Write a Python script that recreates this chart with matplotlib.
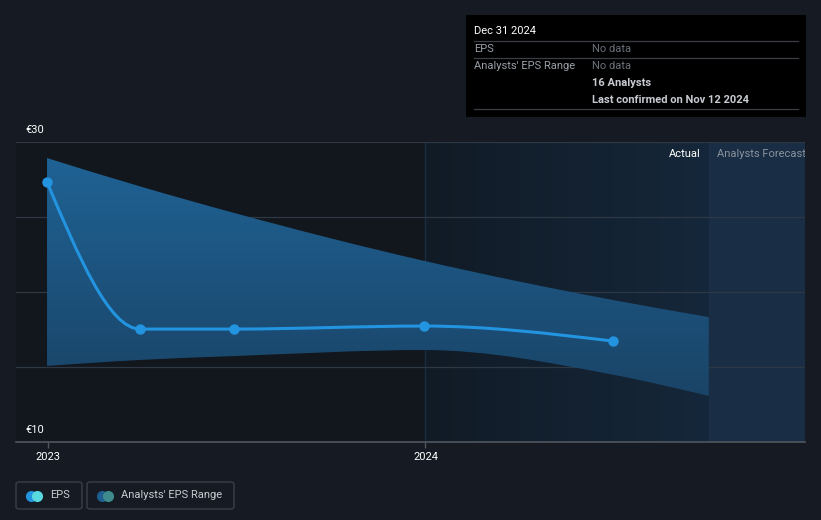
import datetime as dt
import numpy as np
import matplotlib
matplotlib.use("Agg")
import matplotlib.pyplot as plt
import matplotlib.dates as mdates
import matplotlib.transforms as mtrans
from matplotlib.path import Path
from matplotlib.patches import PathPatch, FancyBboxPatch, Rectangle
from matplotlib.colors import LinearSegmentedColormap

plt.rcParams['font.family'] = ['Roboto', 'DejaVu Sans']

# EPS (actual)
eps_dates = ["2022-12-31", "2023-03-31", "2023-06-30", "2023-12-31", "2024-06-30"]
eps_values = [27.33, 17.53, 17.53, 17.73, 16.73]

# Analysts' EPS range
range_dates = ["2022-12-31", "2023-03-31", "2023-06-30", "2023-12-31", "2024-06-30", "2024-10-01"]
range_high = [28.93, 27.04, 25.27, 22.07, 19.47, 18.33]
range_low = [15.07, 15.47, 15.73, 16.13, 14.49, 13.07]

year_ticks = ["2023-01-01", "2024-01-01"]
year_labels = ["2023", "2024"]
forecast_start = "2024-10-01"
highlight_start = "2024-01-01"

tooltip_title = "Dec 31 2024"
tooltip_rows = [("EPS", "No data"), ("Analysts' EPS Range", "No data"),
                ("", "16 Analysts"), ("", "Last confirmed on Nov 12 2024")]

BG = "#151a23"


def d(s):
    return mdates.date2num(dt.datetime.strptime(s, "%Y-%m-%d"))


def monotone_path(xs, ys):
    # cubic bezier segments like d3.curveMonotoneX
    xs = np.asarray(xs, float)
    ys = np.asarray(ys, float)
    n = len(xs)
    h = np.diff(xs)
    s = np.diff(ys) / h
    t = np.zeros(n)
    for i in range(1, n - 1):
        p = (s[i - 1] * h[i] + s[i] * h[i - 1]) / (h[i - 1] + h[i])
        t[i] = (np.sign(s[i - 1]) + np.sign(s[i])) * min(abs(s[i - 1]), abs(s[i]), 0.5 * abs(p))
    t[0] = (3 * s[0] - t[1]) / 2 if n > 2 else s[0]
    t[-1] = (3 * s[-1] - t[-2]) / 2 if n > 2 else s[-1]
    verts = [(xs[0], ys[0])]
    codes = [Path.MOVETO]
    for i in range(n - 1):
        dx = h[i] / 3
        verts += [(xs[i] + dx, ys[i] + dx * t[i]),
                  (xs[i + 1] - dx, ys[i + 1] - dx * t[i + 1]),
                  (xs[i + 1], ys[i + 1])]
        codes += [Path.CURVE4] * 3
    return verts, codes


fig = plt.figure(figsize=(8.21, 5.2), dpi=100, facecolor=BG)
ax = fig.add_axes([16 / 821, 78 / 520, 789 / 821, 300 / 520])
ax.set_facecolor("#12161d")

xmin = d("2022-12-01")
xmax = d("2025-01-02")
ax.set_xlim(xmin, xmax)
ax.set_ylim(10, 30)

# background regions
grad = LinearSegmentedColormap.from_list("g", ["#111b26", "#15273a"])
ax.imshow(np.linspace(0, 1, 100).reshape(1, -1), cmap=grad, aspect="auto",
          extent=[d(highlight_start), d(forecast_start), 10, 30], zorder=0)
ax.add_patch(Rectangle((d(forecast_start), 10), xmax - d(forecast_start), 20,
                       facecolor="#192d44", edgecolor="none", zorder=0))
ax.axvline(d(highlight_start), color="#182c42", lw=1, zorder=0.5)

for yv in [15, 20, 25, 30]:
    ax.axhline(yv, color="#2e3844", lw=0.9, zorder=1)

# EPS range band with vertical gradient
rx = [d(s) for s in range_dates]
uv, uc = monotone_path(rx, range_high)
lv, lc = monotone_path(rx[::-1], range_low[::-1])
verts = uv + lv + [uv[0]]
codes = uc + [Path.LINETO] + lc[1:] + [Path.CLOSEPOLY]
band = PathPatch(Path(verts, codes), facecolor="none", edgecolor="none")
ax.add_patch(band)
bandmap = LinearSegmentedColormap.from_list("b", ["#1a4467", "#1f6294"])
img = ax.imshow(np.linspace(0, 1, 200).reshape(-1, 1), cmap=bandmap, aspect="auto",
                origin="lower", extent=[rx[0], rx[-1], min(range_low), max(range_high)],
                zorder=2)
img.set_clip_path(band)

# EPS line
ex = [d(s) for s in eps_dates]
ev, ec = monotone_path(ex, eps_values)
ax.add_patch(PathPatch(Path(ev, ec), facecolor="none", edgecolor="#2394df", lw=2.2,
                       capstyle="round", zorder=4))
ax.plot(ex, eps_values, "o", color="#2394df", ms=6.5, zorder=5)

# axes styling
for sp in ["top", "right", "left"]:
    ax.spines[sp].set_visible(False)
ax.spines["bottom"].set_color("#50565f")
ax.spines["bottom"].set_linewidth(1.2)
ax.set_yticks([])
ax.set_xticks([d(s) for s in year_ticks])
ax.set_xticklabels(year_labels)
ax.tick_params(axis="x", colors="#50565f", length=4, width=1, labelcolor="#ffffff",
               labelsize=8, pad=3)

off = mtrans.offset_copy(ax.get_yaxis_transform(), fig=fig, y=5, units="points")
ax.text(9 / 789, 30, "€30", transform=off, color="white", fontsize=8, va="bottom", ha="left")
ax.text(9 / 789, 10, "€10", transform=off, color="white", fontsize=8, va="bottom", ha="left")

ax.text(d(forecast_start) - 8, 29.2, "Actual", color="white", fontsize=8, ha="right", va="center")
ax.text(d(forecast_start) + 8, 29.2, "Analysts Forecast", color="#8a929c", fontsize=8,
        ha="left", va="center", clip_on=True)

# tooltip
fig.patches.append(Rectangle((466 / 821, 1 - 117 / 520), 340 / 821, 102 / 520,
                             transform=fig.transFigure, facecolor="black", edgecolor="none"))
fig.text(474 / 821, 1 - 31 / 520, tooltip_title, color="white", fontsize=8, va="center")
for yy in [41, 58, 109]:
    fig.add_artist(plt.Line2D([474 / 821, 798 / 821], [1 - yy / 520] * 2, color="#3a3f47",
                              lw=0.9, transform=fig.transFigure))
row_y = [49, 66, 83, 100]
for (lab, val), yy in zip(tooltip_rows, row_y):
    if lab:
        fig.text(474 / 821, 1 - yy / 520, lab, color="#9aa0a8", fontsize=8, va="center")
    bold = val != "No data"
    fig.text(592 / 821, 1 - yy / 520, val, color="#c8ccd2" if bold else "#6b7079",
             fontsize=8, va="center", fontweight="bold" if bold else "normal")


# legend
def legend_item(x0, w, c1, c2, label):
    fig.patches.append(FancyBboxPatch((x0 / 821, 1 - 509 / 520), w / 821, 27 / 520,
                                      boxstyle="round,pad=0,rounding_size=0.004",
                                      transform=fig.transFigure, facecolor="none",
                                      edgecolor="#3a404a", lw=1))
    fig.add_artist(plt.Line2D([(x0 + 15) / 821], [1 - 495.5 / 520], marker="o", ms=7,
                              color=c1, transform=fig.transFigure, lw=0))
    fig.add_artist(plt.Line2D([(x0 + 21) / 821], [1 - 495.5 / 520], marker="o", ms=7,
                              color=c2, transform=fig.transFigure, lw=0))
    fig.text((x0 + 34) / 821, 1 - 495.5 / 520, label, color="#c8ccd2", fontsize=8, va="center")


legend_item(16, 66, "#2394df", "#5ad8e0", "EPS")
legend_item(87, 147, "#1f5f8f", "#3e8a8c", "Analysts' EPS Range")

fig.savefig("out.png", dpi=100, facecolor=BG)
